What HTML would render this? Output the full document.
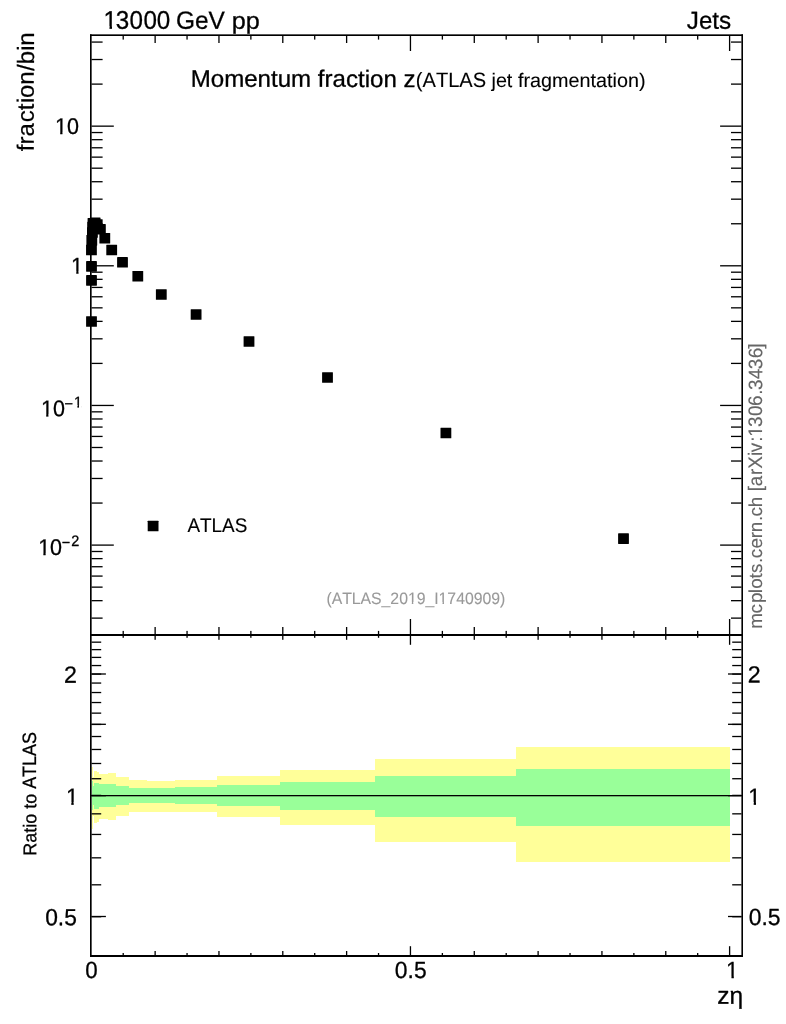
<!DOCTYPE html>
<html lang="en">
<head>
<meta charset="utf-8">
<title>Momentum fraction z (ATLAS jet fragmentation)</title>
<style>
html,body{margin:0;padding:0;background:#fff;}
body{width:786px;height:1024px;overflow:hidden;}
svg{display:block;font-family:"Liberation Sans", sans-serif;font-kerning:none;font-variant-ligatures:none;}
text{white-space:pre;stroke-linejoin:round;text-rendering:geometricPrecision;}
</style>
</head>
<body>
<svg width="786" height="1024" viewBox="0 0 786 1024">
<defs>
<clipPath id="c1"><rect x="-20" y="-43.56" width="196.08" height="40.72"/><rect x="-20" y="-2.84" width="20.24" height="4.44"/><rect x="5.94" y="-2.84" width="2.44" height="4.44"/><rect x="13.29" y="-2.84" width="162.79" height="4.44"/><rect x="-20" y="1.6" width="196.08" height="41.96"/></clipPath>
<clipPath id="c2"><rect x="-109.43" y="-28.39" width="218.86" height="26.36"/><rect x="-109.43" y="-2.03" width="101.68" height="3.63"/><rect x="-3.99" y="-2.03" width="1.49" height="3.63"/><rect x="0.75" y="-2.03" width="22.18" height="3.63"/><rect x="26.7" y="-2.03" width="1.49" height="3.63"/><rect x="31.45" y="-2.03" width="77.98" height="3.63"/><rect x="-109.43" y="1.6" width="218.86" height="26.79"/></clipPath>
<clipPath id="c3"><rect x="-20" y="-34.2" width="327.26" height="32.17"/><rect x="-20" y="-2.03" width="212.22" height="3.63"/><rect x="196.72" y="-2.03" width="1.79" height="3.63"/><rect x="202.39" y="-2.03" width="104.87" height="3.63"/><rect x="-20" y="1.6" width="327.26" height="32.6"/></clipPath>
<clipPath id="c4"><rect x="-43.91" y="-38.7" width="63.91" height="36.67"/><rect x="-43.91" y="-2.03" width="20.21" height="3.63"/><rect x="-18.66" y="-2.03" width="2.2" height="3.63"/><rect x="-12.1" y="-2.03" width="32.1" height="3.63"/><rect x="-43.91" y="1.6" width="63.91" height="37.1"/></clipPath>
<clipPath id="c5"><rect x="-31.96" y="-38.7" width="51.96" height="36.06"/><rect x="-31.96" y="-2.64" width="20.21" height="4.24"/><rect x="-6.7" y="-2.64" width="2.2" height="4.24"/><rect x="-0.15" y="-2.64" width="20.15" height="4.24"/><rect x="-31.96" y="1.6" width="51.96" height="37.1"/></clipPath>
<clipPath id="c6"><rect x="-60.45" y="-38.7" width="80.45" height="27.33"/><rect x="-60.45" y="-11.37" width="52.52" height="3.83"/><rect x="-4.57" y="-11.37" width="1.58" height="3.83"/><rect x="-0.1" y="-11.37" width="20.1" height="3.83"/><rect x="-60.45" y="-7.54" width="80.45" height="5.3"/><rect x="-60.45" y="-2.23" width="19.61" height="3.83"/><rect x="-35.79" y="-2.23" width="2.2" height="3.83"/><rect x="-29.24" y="-2.23" width="49.24" height="3.83"/><rect x="-60.45" y="1.6" width="80.45" height="37.1"/></clipPath>
<clipPath id="c7"><rect x="-60.45" y="-38.7" width="80.45" height="36.57"/><rect x="-60.45" y="-2.13" width="19.61" height="3.73"/><rect x="-35.79" y="-2.13" width="2.2" height="3.73"/><rect x="-29.24" y="-2.13" width="49.24" height="3.73"/><rect x="-60.45" y="1.6" width="80.45" height="37.1"/></clipPath>
<clipPath id="c8"><rect x="-32.4" y="-40.14" width="52.4" height="37.4"/><rect x="-32.4" y="-2.74" width="20.22" height="4.34"/><rect x="-6.94" y="-2.74" width="2.27" height="4.34"/><rect x="-0.15" y="-2.74" width="20.15" height="4.34"/><rect x="-32.4" y="1.6" width="52.4" height="38.54"/></clipPath>
<clipPath id="c9"><rect x="-20" y="-40.14" width="52.4" height="37.4"/><rect x="-20" y="-2.74" width="20.22" height="4.34"/><rect x="5.46" y="-2.74" width="2.27" height="4.34"/><rect x="12.25" y="-2.74" width="20.15" height="4.34"/><rect x="-20" y="1.6" width="52.4" height="38.54"/></clipPath>
<clipPath id="c10"><rect x="-26.2" y="-40.14" width="52.4" height="38.21"/><rect x="-26.2" y="-1.93" width="20.22" height="3.53"/><rect x="-0.74" y="-1.93" width="2.27" height="3.53"/><rect x="6.05" y="-1.93" width="20.15" height="3.53"/><rect x="-26.2" y="1.6" width="52.4" height="38.54"/></clipPath>
</defs>
<rect x="0" y="0" width="786" height="1024" fill="#fff"/>
<g shape-rendering="crispEdges">
<rect x="92.00" y="767.00" width="1.00" height="62.00" fill="#ffff99"/>
<rect x="93.00" y="777.00" width="1.00" height="39.00" fill="#ffff99"/>
<rect x="94.00" y="771.00" width="3.00" height="52.00" fill="#ffff99"/>
<rect x="97.00" y="772.00" width="2.00" height="50.00" fill="#ffff99"/>
<rect x="99.00" y="774.00" width="9.00" height="45.00" fill="#ffff99"/>
<rect x="108.00" y="773.00" width="8.00" height="47.00" fill="#ffff99"/>
<rect x="116.00" y="777.00" width="13.00" height="39.00" fill="#ffff99"/>
<rect x="129.00" y="780.00" width="18.00" height="32.00" fill="#ffff99"/>
<rect x="147.00" y="781.00" width="28.00" height="31.00" fill="#ffff99"/>
<rect x="175.00" y="780.00" width="42.00" height="32.00" fill="#ffff99"/>
<rect x="217.00" y="776.00" width="63.00" height="41.00" fill="#ffff99"/>
<rect x="280.00" y="770.00" width="95.00" height="55.00" fill="#ffff99"/>
<rect x="375.00" y="759.00" width="141.00" height="83.00" fill="#ffff99"/>
<rect x="516.00" y="747.00" width="214.00" height="115.00" fill="#ffff99"/>
<rect x="92.00" y="781.00" width="1.00" height="29.00" fill="#99ff99"/>
<rect x="93.00" y="786.00" width="1.00" height="19.00" fill="#99ff99"/>
<rect x="94.00" y="783.00" width="3.00" height="26.00" fill="#99ff99"/>
<rect x="97.00" y="783.00" width="2.00" height="26.00" fill="#99ff99"/>
<rect x="99.00" y="784.00" width="9.00" height="23.00" fill="#99ff99"/>
<rect x="108.00" y="784.00" width="8.00" height="23.00" fill="#99ff99"/>
<rect x="116.00" y="786.00" width="13.00" height="19.00" fill="#99ff99"/>
<rect x="129.00" y="788.00" width="18.00" height="15.00" fill="#99ff99"/>
<rect x="147.00" y="788.00" width="28.00" height="15.00" fill="#99ff99"/>
<rect x="175.00" y="787.00" width="42.00" height="17.00" fill="#99ff99"/>
<rect x="217.00" y="785.00" width="63.00" height="21.00" fill="#99ff99"/>
<rect x="280.00" y="782.00" width="95.00" height="28.00" fill="#99ff99"/>
<rect x="375.00" y="776.00" width="141.00" height="41.00" fill="#99ff99"/>
<rect x="516.00" y="769.00" width="214.00" height="57.00" fill="#99ff99"/>
</g>
<g>
<rect x="91.50" y="617.47" width="11.10" height="1.30" fill="#000"/>
<rect x="731.00" y="617.47" width="10.50" height="1.30" fill="#000"/>
<rect x="91.50" y="600.02" width="11.10" height="1.30" fill="#000"/>
<rect x="731.00" y="600.02" width="10.50" height="1.30" fill="#000"/>
<rect x="91.50" y="586.49" width="11.10" height="1.30" fill="#000"/>
<rect x="731.00" y="586.49" width="10.50" height="1.30" fill="#000"/>
<rect x="91.50" y="575.43" width="11.10" height="1.30" fill="#000"/>
<rect x="731.00" y="575.43" width="10.50" height="1.30" fill="#000"/>
<rect x="91.50" y="566.08" width="11.10" height="1.30" fill="#000"/>
<rect x="731.00" y="566.08" width="10.50" height="1.30" fill="#000"/>
<rect x="91.50" y="557.98" width="11.10" height="1.30" fill="#000"/>
<rect x="731.00" y="557.98" width="10.50" height="1.30" fill="#000"/>
<rect x="91.50" y="550.84" width="11.10" height="1.30" fill="#000"/>
<rect x="731.00" y="550.84" width="10.50" height="1.30" fill="#000"/>
<rect x="91.50" y="544.45" width="22.30" height="1.30" fill="#000"/>
<rect x="720.10" y="544.45" width="21.40" height="1.30" fill="#000"/>
<rect x="91.50" y="502.41" width="11.10" height="1.30" fill="#000"/>
<rect x="731.00" y="502.41" width="10.50" height="1.30" fill="#000"/>
<rect x="91.50" y="477.82" width="11.10" height="1.30" fill="#000"/>
<rect x="731.00" y="477.82" width="10.50" height="1.30" fill="#000"/>
<rect x="91.50" y="460.37" width="11.10" height="1.30" fill="#000"/>
<rect x="731.00" y="460.37" width="10.50" height="1.30" fill="#000"/>
<rect x="91.50" y="446.84" width="11.10" height="1.30" fill="#000"/>
<rect x="731.00" y="446.84" width="10.50" height="1.30" fill="#000"/>
<rect x="91.50" y="435.78" width="11.10" height="1.30" fill="#000"/>
<rect x="731.00" y="435.78" width="10.50" height="1.30" fill="#000"/>
<rect x="91.50" y="426.43" width="11.10" height="1.30" fill="#000"/>
<rect x="731.00" y="426.43" width="10.50" height="1.30" fill="#000"/>
<rect x="91.50" y="418.33" width="11.10" height="1.30" fill="#000"/>
<rect x="731.00" y="418.33" width="10.50" height="1.30" fill="#000"/>
<rect x="91.50" y="411.19" width="11.10" height="1.30" fill="#000"/>
<rect x="731.00" y="411.19" width="10.50" height="1.30" fill="#000"/>
<rect x="91.50" y="404.80" width="22.30" height="1.30" fill="#000"/>
<rect x="720.10" y="404.80" width="21.40" height="1.30" fill="#000"/>
<rect x="91.50" y="362.76" width="11.10" height="1.30" fill="#000"/>
<rect x="731.00" y="362.76" width="10.50" height="1.30" fill="#000"/>
<rect x="91.50" y="338.17" width="11.10" height="1.30" fill="#000"/>
<rect x="731.00" y="338.17" width="10.50" height="1.30" fill="#000"/>
<rect x="91.50" y="320.72" width="11.10" height="1.30" fill="#000"/>
<rect x="731.00" y="320.72" width="10.50" height="1.30" fill="#000"/>
<rect x="91.50" y="307.19" width="11.10" height="1.30" fill="#000"/>
<rect x="731.00" y="307.19" width="10.50" height="1.30" fill="#000"/>
<rect x="91.50" y="296.13" width="11.10" height="1.30" fill="#000"/>
<rect x="731.00" y="296.13" width="10.50" height="1.30" fill="#000"/>
<rect x="91.50" y="286.78" width="11.10" height="1.30" fill="#000"/>
<rect x="731.00" y="286.78" width="10.50" height="1.30" fill="#000"/>
<rect x="91.50" y="278.68" width="11.10" height="1.30" fill="#000"/>
<rect x="731.00" y="278.68" width="10.50" height="1.30" fill="#000"/>
<rect x="91.50" y="271.54" width="11.10" height="1.30" fill="#000"/>
<rect x="731.00" y="271.54" width="10.50" height="1.30" fill="#000"/>
<rect x="91.50" y="265.15" width="22.30" height="1.30" fill="#000"/>
<rect x="720.10" y="265.15" width="21.40" height="1.30" fill="#000"/>
<rect x="91.50" y="223.11" width="11.10" height="1.30" fill="#000"/>
<rect x="731.00" y="223.11" width="10.50" height="1.30" fill="#000"/>
<rect x="91.50" y="198.52" width="11.10" height="1.30" fill="#000"/>
<rect x="731.00" y="198.52" width="10.50" height="1.30" fill="#000"/>
<rect x="91.50" y="181.07" width="11.10" height="1.30" fill="#000"/>
<rect x="731.00" y="181.07" width="10.50" height="1.30" fill="#000"/>
<rect x="91.50" y="167.54" width="11.10" height="1.30" fill="#000"/>
<rect x="731.00" y="167.54" width="10.50" height="1.30" fill="#000"/>
<rect x="91.50" y="156.48" width="11.10" height="1.30" fill="#000"/>
<rect x="731.00" y="156.48" width="10.50" height="1.30" fill="#000"/>
<rect x="91.50" y="147.13" width="11.10" height="1.30" fill="#000"/>
<rect x="731.00" y="147.13" width="10.50" height="1.30" fill="#000"/>
<rect x="91.50" y="139.03" width="11.10" height="1.30" fill="#000"/>
<rect x="731.00" y="139.03" width="10.50" height="1.30" fill="#000"/>
<rect x="91.50" y="131.89" width="11.10" height="1.30" fill="#000"/>
<rect x="731.00" y="131.89" width="10.50" height="1.30" fill="#000"/>
<rect x="91.50" y="125.50" width="22.30" height="1.30" fill="#000"/>
<rect x="720.10" y="125.50" width="21.40" height="1.30" fill="#000"/>
<rect x="91.50" y="83.46" width="11.10" height="1.30" fill="#000"/>
<rect x="731.00" y="83.46" width="10.50" height="1.30" fill="#000"/>
<rect x="91.50" y="58.87" width="11.10" height="1.30" fill="#000"/>
<rect x="731.00" y="58.87" width="10.50" height="1.30" fill="#000"/>
<rect x="91.50" y="41.42" width="11.10" height="1.30" fill="#000"/>
<rect x="731.00" y="41.42" width="10.50" height="1.30" fill="#000"/>
<rect x="91.50" y="916.07" width="9.70" height="1.30" fill="#000"/>
<rect x="732.20" y="916.07" width="9.30" height="1.30" fill="#000"/>
<rect x="91.50" y="884.16" width="9.70" height="1.30" fill="#000"/>
<rect x="732.20" y="884.16" width="9.30" height="1.30" fill="#000"/>
<rect x="91.50" y="857.18" width="9.70" height="1.30" fill="#000"/>
<rect x="732.20" y="857.18" width="9.30" height="1.30" fill="#000"/>
<rect x="91.50" y="833.80" width="9.70" height="1.30" fill="#000"/>
<rect x="732.20" y="833.80" width="9.30" height="1.30" fill="#000"/>
<rect x="91.50" y="813.19" width="9.70" height="1.30" fill="#000"/>
<rect x="732.20" y="813.19" width="9.30" height="1.30" fill="#000"/>
<rect x="91.50" y="794.75" width="9.70" height="1.30" fill="#000"/>
<rect x="732.20" y="794.75" width="9.30" height="1.30" fill="#000"/>
<rect x="91.50" y="778.07" width="9.70" height="1.30" fill="#000"/>
<rect x="732.20" y="778.07" width="9.30" height="1.30" fill="#000"/>
<rect x="91.50" y="762.84" width="9.70" height="1.30" fill="#000"/>
<rect x="732.20" y="762.84" width="9.30" height="1.30" fill="#000"/>
<rect x="91.50" y="748.83" width="9.70" height="1.30" fill="#000"/>
<rect x="732.20" y="748.83" width="9.30" height="1.30" fill="#000"/>
<rect x="91.50" y="735.86" width="9.70" height="1.30" fill="#000"/>
<rect x="732.20" y="735.86" width="9.30" height="1.30" fill="#000"/>
<rect x="91.50" y="723.79" width="9.70" height="1.30" fill="#000"/>
<rect x="732.20" y="723.79" width="9.30" height="1.30" fill="#000"/>
<rect x="91.50" y="712.49" width="9.70" height="1.30" fill="#000"/>
<rect x="732.20" y="712.49" width="9.30" height="1.30" fill="#000"/>
<rect x="91.50" y="701.88" width="9.70" height="1.30" fill="#000"/>
<rect x="732.20" y="701.88" width="9.30" height="1.30" fill="#000"/>
<rect x="91.50" y="691.88" width="9.70" height="1.30" fill="#000"/>
<rect x="732.20" y="691.88" width="9.30" height="1.30" fill="#000"/>
<rect x="91.50" y="682.41" width="9.70" height="1.30" fill="#000"/>
<rect x="732.20" y="682.41" width="9.30" height="1.30" fill="#000"/>
<rect x="91.50" y="673.43" width="9.70" height="1.30" fill="#000"/>
<rect x="732.20" y="673.43" width="9.30" height="1.30" fill="#000"/>
<rect x="91.50" y="664.90" width="9.70" height="1.30" fill="#000"/>
<rect x="732.20" y="664.90" width="9.30" height="1.30" fill="#000"/>
<rect x="91.50" y="656.75" width="9.70" height="1.30" fill="#000"/>
<rect x="732.20" y="656.75" width="9.30" height="1.30" fill="#000"/>
<rect x="91.50" y="648.97" width="9.70" height="1.30" fill="#000"/>
<rect x="732.20" y="648.97" width="9.30" height="1.30" fill="#000"/>
<rect x="91.50" y="641.52" width="9.70" height="1.30" fill="#000"/>
<rect x="732.20" y="641.52" width="9.30" height="1.30" fill="#000"/>
<rect x="91.50" y="673.35" width="14.40" height="1.30" fill="#000"/>
<rect x="728.00" y="673.35" width="13.50" height="1.30" fill="#000"/>
<rect x="91.50" y="723.65" width="14.40" height="1.30" fill="#000"/>
<rect x="728.00" y="723.65" width="13.50" height="1.30" fill="#000"/>
<rect x="91.50" y="795.00" width="14.40" height="1.30" fill="#000"/>
<rect x="728.00" y="795.00" width="13.50" height="1.30" fill="#000"/>
<rect x="91.50" y="915.85" width="14.40" height="1.30" fill="#000"/>
<rect x="728.00" y="915.85" width="13.50" height="1.30" fill="#000"/>
<rect x="122.56" y="35.50" width="1.30" height="4.10" fill="#000"/>
<rect x="122.56" y="630.90" width="1.30" height="3.60" fill="#000"/>
<rect x="122.56" y="635.50" width="1.30" height="2.30" fill="#000"/>
<rect x="122.56" y="953.00" width="1.30" height="2.50" fill="#000"/>
<rect x="154.48" y="35.50" width="1.30" height="7.50" fill="#000"/>
<rect x="154.48" y="627.00" width="1.30" height="7.50" fill="#000"/>
<rect x="154.48" y="635.50" width="1.30" height="4.30" fill="#000"/>
<rect x="154.48" y="951.00" width="1.30" height="4.50" fill="#000"/>
<rect x="186.40" y="35.50" width="1.30" height="4.10" fill="#000"/>
<rect x="186.40" y="630.90" width="1.30" height="3.60" fill="#000"/>
<rect x="186.40" y="635.50" width="1.30" height="2.30" fill="#000"/>
<rect x="186.40" y="953.00" width="1.30" height="2.50" fill="#000"/>
<rect x="218.31" y="35.50" width="1.30" height="7.50" fill="#000"/>
<rect x="218.31" y="627.00" width="1.30" height="7.50" fill="#000"/>
<rect x="218.31" y="635.50" width="1.30" height="4.30" fill="#000"/>
<rect x="218.31" y="951.00" width="1.30" height="4.50" fill="#000"/>
<rect x="250.22" y="35.50" width="1.30" height="4.10" fill="#000"/>
<rect x="250.22" y="630.90" width="1.30" height="3.60" fill="#000"/>
<rect x="250.22" y="635.50" width="1.30" height="2.30" fill="#000"/>
<rect x="250.22" y="953.00" width="1.30" height="2.50" fill="#000"/>
<rect x="282.14" y="35.50" width="1.30" height="7.50" fill="#000"/>
<rect x="282.14" y="627.00" width="1.30" height="7.50" fill="#000"/>
<rect x="282.14" y="635.50" width="1.30" height="4.30" fill="#000"/>
<rect x="282.14" y="951.00" width="1.30" height="4.50" fill="#000"/>
<rect x="314.06" y="35.50" width="1.30" height="4.10" fill="#000"/>
<rect x="314.06" y="630.90" width="1.30" height="3.60" fill="#000"/>
<rect x="314.06" y="635.50" width="1.30" height="2.30" fill="#000"/>
<rect x="314.06" y="953.00" width="1.30" height="2.50" fill="#000"/>
<rect x="345.97" y="35.50" width="1.30" height="7.50" fill="#000"/>
<rect x="345.97" y="627.00" width="1.30" height="7.50" fill="#000"/>
<rect x="345.97" y="635.50" width="1.30" height="4.30" fill="#000"/>
<rect x="345.97" y="951.00" width="1.30" height="4.50" fill="#000"/>
<rect x="377.89" y="35.50" width="1.30" height="4.10" fill="#000"/>
<rect x="377.89" y="630.90" width="1.30" height="3.60" fill="#000"/>
<rect x="377.89" y="635.50" width="1.30" height="2.30" fill="#000"/>
<rect x="377.89" y="953.00" width="1.30" height="2.50" fill="#000"/>
<rect x="409.80" y="35.50" width="1.30" height="15.50" fill="#000"/>
<rect x="409.80" y="619.00" width="1.30" height="15.50" fill="#000"/>
<rect x="409.80" y="635.50" width="1.30" height="9.30" fill="#000"/>
<rect x="409.80" y="946.20" width="1.30" height="9.30" fill="#000"/>
<rect x="441.72" y="35.50" width="1.30" height="4.10" fill="#000"/>
<rect x="441.72" y="630.90" width="1.30" height="3.60" fill="#000"/>
<rect x="441.72" y="635.50" width="1.30" height="2.30" fill="#000"/>
<rect x="441.72" y="953.00" width="1.30" height="2.50" fill="#000"/>
<rect x="473.63" y="35.50" width="1.30" height="7.50" fill="#000"/>
<rect x="473.63" y="627.00" width="1.30" height="7.50" fill="#000"/>
<rect x="473.63" y="635.50" width="1.30" height="4.30" fill="#000"/>
<rect x="473.63" y="951.00" width="1.30" height="4.50" fill="#000"/>
<rect x="505.55" y="35.50" width="1.30" height="4.10" fill="#000"/>
<rect x="505.55" y="630.90" width="1.30" height="3.60" fill="#000"/>
<rect x="505.55" y="635.50" width="1.30" height="2.30" fill="#000"/>
<rect x="505.55" y="953.00" width="1.30" height="2.50" fill="#000"/>
<rect x="537.46" y="35.50" width="1.30" height="7.50" fill="#000"/>
<rect x="537.46" y="627.00" width="1.30" height="7.50" fill="#000"/>
<rect x="537.46" y="635.50" width="1.30" height="4.30" fill="#000"/>
<rect x="537.46" y="951.00" width="1.30" height="4.50" fill="#000"/>
<rect x="569.38" y="35.50" width="1.30" height="4.10" fill="#000"/>
<rect x="569.38" y="630.90" width="1.30" height="3.60" fill="#000"/>
<rect x="569.38" y="635.50" width="1.30" height="2.30" fill="#000"/>
<rect x="569.38" y="953.00" width="1.30" height="2.50" fill="#000"/>
<rect x="601.29" y="35.50" width="1.30" height="7.50" fill="#000"/>
<rect x="601.29" y="627.00" width="1.30" height="7.50" fill="#000"/>
<rect x="601.29" y="635.50" width="1.30" height="4.30" fill="#000"/>
<rect x="601.29" y="951.00" width="1.30" height="4.50" fill="#000"/>
<rect x="633.21" y="35.50" width="1.30" height="4.10" fill="#000"/>
<rect x="633.21" y="630.90" width="1.30" height="3.60" fill="#000"/>
<rect x="633.21" y="635.50" width="1.30" height="2.30" fill="#000"/>
<rect x="633.21" y="953.00" width="1.30" height="2.50" fill="#000"/>
<rect x="665.12" y="35.50" width="1.30" height="7.50" fill="#000"/>
<rect x="665.12" y="627.00" width="1.30" height="7.50" fill="#000"/>
<rect x="665.12" y="635.50" width="1.30" height="4.30" fill="#000"/>
<rect x="665.12" y="951.00" width="1.30" height="4.50" fill="#000"/>
<rect x="697.03" y="35.50" width="1.30" height="4.10" fill="#000"/>
<rect x="697.03" y="630.90" width="1.30" height="3.60" fill="#000"/>
<rect x="697.03" y="635.50" width="1.30" height="2.30" fill="#000"/>
<rect x="697.03" y="953.00" width="1.30" height="2.50" fill="#000"/>
<rect x="728.95" y="35.50" width="1.30" height="15.50" fill="#000"/>
<rect x="728.95" y="619.00" width="1.30" height="15.50" fill="#000"/>
<rect x="728.95" y="635.50" width="1.30" height="9.30" fill="#000"/>
<rect x="728.95" y="946.20" width="1.30" height="9.30" fill="#000"/>
</g>
<rect x="91.00" y="795.00" width="651.00" height="1.30" fill="#000"/>
<g>
<rect x="90.00" y="34.35" width="653.00" height="1.65" fill="#000"/>
<rect x="90.00" y="634.00" width="653.00" height="2.00" fill="#000"/>
<rect x="90.00" y="955.00" width="653.00" height="2.00" fill="#000"/>
<rect x="90.00" y="34.35" width="1.65" height="922.65" fill="#000"/>
<rect x="741.40" y="34.35" width="1.60" height="922.65" fill="#000"/>
</g>
<rect x="618.10" y="533.30" width="10.80" height="10.60" fill="#000" rx="0.4"/>
<rect x="440.50" y="427.70" width="10.80" height="10.60" fill="#000" rx="0.4"/>
<rect x="322.10" y="372.20" width="10.80" height="10.60" fill="#000" rx="0.4"/>
<rect x="243.60" y="336.20" width="10.80" height="10.60" fill="#000" rx="0.4"/>
<rect x="190.70" y="309.20" width="10.80" height="10.60" fill="#000" rx="0.4"/>
<rect x="155.90" y="289.20" width="10.80" height="10.60" fill="#000" rx="0.4"/>
<rect x="132.40" y="271.00" width="10.80" height="10.60" fill="#000" rx="0.4"/>
<rect x="117.10" y="257.00" width="10.80" height="10.60" fill="#000" rx="0.4"/>
<rect x="106.30" y="244.70" width="10.80" height="10.60" fill="#000" rx="0.4"/>
<rect x="99.40" y="233.00" width="10.80" height="10.60" fill="#000" rx="0.4"/>
<rect x="95.00" y="224.00" width="10.80" height="10.60" fill="#000" rx="0.4"/>
<rect x="91.85" y="219.20" width="10.80" height="10.60" fill="#000" rx="0.4"/>
<rect x="89.75" y="217.50" width="10.80" height="10.60" fill="#000" rx="0.4"/>
<rect x="87.60" y="217.90" width="10.80" height="10.60" fill="#000" rx="0.4"/>
<rect x="87.30" y="221.70" width="10.80" height="10.60" fill="#000" rx="0.4"/>
<rect x="87.00" y="227.20" width="10.80" height="10.60" fill="#000" rx="0.4"/>
<rect x="86.40" y="235.10" width="10.80" height="10.60" fill="#000" rx="0.4"/>
<rect x="86.05" y="244.70" width="10.80" height="10.60" fill="#000" rx="0.4"/>
<rect x="86.10" y="261.05" width="10.80" height="10.60" fill="#000" rx="0.4"/>
<rect x="86.10" y="275.10" width="10.80" height="10.60" fill="#000" rx="0.4"/>
<rect x="86.10" y="316.20" width="10.80" height="10.60" fill="#000" rx="0.4"/>
<rect x="147.70" y="520.75" width="10.80" height="10.60" fill="#000" rx="0.4"/>
<text transform="translate(103.6 28.8) rotate(0.03) scale(1 0.985)" x="0" y="0" font-size="24.2" fill="#000" stroke="#000" stroke-width="0.3" clip-path="url(#c1)"><tspan x="0 12.2 25.82 39.81 53.04" font-size="25.8" textLength="67.29" lengthAdjust="spacingAndGlyphs">13000</tspan> <tspan x="72.42" font-size="25.18" textLength="48.92" lengthAdjust="spacingAndGlyphs">GeV</tspan> <tspan x="128.07" textLength="28.02" lengthAdjust="spacingAndGlyphs">pp</tspan></text>
<text transform="translate(731.2 28.8) rotate(0.03) scale(1 0.985)" x="-44.38" y="0" font-size="24.2" fill="#000" stroke="#000" stroke-width="0.3"><tspan font-size="24.94" textLength="44.38" lengthAdjust="spacingAndGlyphs">Jets</tspan></text>
<text transform="translate(190.7 86.8) rotate(0.03) scale(1 0.985)" x="0" y="0" font-size="24.08" fill="#000" stroke="#000" stroke-width="0.3"><tspan font-size="24.26" textLength="120.44" lengthAdjust="spacingAndGlyphs">Momentum</tspan> fraction z</text>
<text transform="translate(415.5 86.9) rotate(0.03) scale(1 0.985)" x="0" y="0" font-size="19.9" fill="#000" stroke="#000" stroke-width="0.12"><tspan x="0.35" font-size="21.11" textLength="70.27" lengthAdjust="spacingAndGlyphs">(ATLAS</tspan> <tspan x="76" textLength="20.87" lengthAdjust="spacingAndGlyphs">jet</tspan> <tspan x="102.54" textLength="127.51" lengthAdjust="spacingAndGlyphs">fragmentation)</tspan></text>
<text transform="translate(187.4 531.9) rotate(0.03) scale(1 0.985)" x="0" y="0" font-size="18.9" fill="#000" stroke="#000" stroke-width="0.15"><tspan font-size="20.05" textLength="59.87" lengthAdjust="spacingAndGlyphs">ATLAS</tspan></text>
<text transform="translate(415.8 604) rotate(0.03) scale(1 0.985)" x="-89.43" y="0" font-size="15.77" fill="#999" stroke="#999" stroke-width="0.1" clip-path="url(#c2)"><tspan font-size="16.78" textLength="178.86" lengthAdjust="spacingAndGlyphs">(ATLAS_2019_I1740909)</tspan></text>
<text transform="translate(762 628.8) rotate(-89.97) scale(1 0.985)" x="0" y="0" font-size="19" fill="#666" stroke="#666" stroke-width="0.12" clip-path="url(#c3)"><tspan x="0 15.38 25.8 35.57 39.95 50.43 55.86 65.77 70.5 80.22 90.59 96.66 107.83 112.26 121.47" textLength="131.85" lengthAdjust="spacingAndGlyphs">mcplots.cern.ch</tspan> <tspan x="137.53 142.46 153.74 160.02 172.69 176.58 187 192.04 201.82 212.9 222.88 234.06 238.8 249.58 259.66 270.45 280.13" font-size="19.86" textLength="147.74" lengthAdjust="spacingAndGlyphs">[arXiv:1306.3436]</tspan></text>
<text transform="translate(33.9 33.8) rotate(-89.97) scale(1 0.985)" x="-117.4" y="0" font-size="24" fill="#000" stroke="#000" stroke-width="0.2"><tspan x="-117.4 -110.73 -102.74 -88.39 -76.39 -69.12 -64.09 -50.94 -37.3 -30.33 -16.98 -11.95">fraction/bin</tspan></text>
<text transform="translate(36.2 793.85) rotate(-89.97) scale(1 0.985)" x="-61.84" y="0" font-size="18.5" fill="#000" stroke="#000" stroke-width="0.28"><tspan x="-61.84" font-size="18.73" textLength="41.89" lengthAdjust="spacingAndGlyphs">Ratio</tspan> <tspan x="-14.96" textLength="14.97" lengthAdjust="spacingAndGlyphs">to</tspan> <tspan x="4.99" font-size="19.63" textLength="56.85" lengthAdjust="spacingAndGlyphs">ATLAS</tspan></text>
<text transform="translate(743 1003.8) rotate(0.03) scale(1 0.985)" x="-25.88" y="0" font-size="24.5" fill="#000" stroke="#000" stroke-width="0.3">zη</text>
<text transform="translate(78.9 134) rotate(0.03) scale(1 0.985)" x="-23.91" y="0" font-size="21.5" fill="#000" stroke="#000" stroke-width="0.3" clip-path="url(#c4)"><tspan font-size="22.92" textLength="23.91" lengthAdjust="spacingAndGlyphs">10</tspan></text>
<text transform="translate(83 273.6) rotate(0.03) scale(1 0.985)" x="-11.96" y="0" font-size="21.5" fill="#000" stroke="#000" stroke-width="0.3" clip-path="url(#c5)"><tspan font-size="22.92" textLength="11.96" lengthAdjust="spacingAndGlyphs">1</tspan></text>
<text transform="translate(82 416.2) rotate(0.03) scale(1 0.985)" x="-40.45" y="0" font-size="21.5" fill="#000" stroke="#000" stroke-width="0.3" clip-path="url(#c6)"><tspan x="-41.05" font-size="22.92" textLength="23.91" lengthAdjust="spacingAndGlyphs" dy="0">10</tspan><tspan x="-17.43" font-size="14.5" dy="-7.92">−</tspan><tspan x="-8.06" font-size="15.46" textLength="8.06" lengthAdjust="spacingAndGlyphs" dy="-1.22">1</tspan></text>
<text transform="translate(79.2 555.1) rotate(0.03) scale(1 0.985)" x="-40.45" y="0" font-size="21.5" fill="#000" stroke="#000" stroke-width="0.3" clip-path="url(#c7)"><tspan x="-41.05" font-size="22.92" textLength="23.91" lengthAdjust="spacingAndGlyphs" dy="0">10</tspan><tspan x="-17.43" font-size="14.5" dy="-7.92">−</tspan><tspan x="-8.06" font-size="15.46" textLength="8.06" lengthAdjust="spacingAndGlyphs" dy="-1.22">2</tspan></text>
<text transform="translate(77 682.7) rotate(0.03) scale(1 0.985)" x="-12.9" y="0" font-size="22.3" fill="#000" stroke="#000" stroke-width="0.3"><tspan x="-12.9" font-size="23.77" textLength="12.9" lengthAdjust="spacingAndGlyphs">2</tspan></text>
<text transform="translate(78.3 804.7) rotate(0.03) scale(1 0.985)" x="-12.4" y="0" font-size="22.3" fill="#000" stroke="#000" stroke-width="0.3" clip-path="url(#c8)"><tspan font-size="23.77" textLength="12.4" lengthAdjust="spacingAndGlyphs">1</tspan></text>
<text transform="translate(77 925.2) rotate(0.03) scale(1 0.985)" x="-31" y="0" font-size="22.3" fill="#000" stroke="#000" stroke-width="0.3"><tspan x="-31.85" font-size="23.77" textLength="31.7" lengthAdjust="spacingAndGlyphs">0.5</tspan></text>
<text transform="translate(747.85 682.6) rotate(0.03) scale(1 0.985)" x="0" y="0" font-size="22.3" fill="#000" stroke="#000" stroke-width="0.3"><tspan x="0" font-size="23.77" textLength="12.9" lengthAdjust="spacingAndGlyphs">2</tspan></text>
<text transform="translate(748.3 804.7) rotate(0.03) scale(1 0.985)" x="0" y="0" font-size="22.3" fill="#000" stroke="#000" stroke-width="0.3" clip-path="url(#c9)"><tspan font-size="23.77" textLength="12.4" lengthAdjust="spacingAndGlyphs">1</tspan></text>
<text transform="translate(748.7 924.9) rotate(0.03) scale(1 0.985)" x="0" y="0" font-size="22.3" fill="#000" stroke="#000" stroke-width="0.3"><tspan x="0" font-size="23.77" textLength="31.9" lengthAdjust="spacingAndGlyphs">0.5</tspan></text>
<text transform="translate(91.4 978) rotate(0.03) scale(1 0.985)" x="-6.2" y="0" font-size="22.3" fill="#000" stroke="#000" stroke-width="0.3"><tspan font-size="23.77" textLength="12.4" lengthAdjust="spacingAndGlyphs">0</tspan></text>
<text transform="translate(410.4 978) rotate(0.03) scale(1 0.985)" x="-15.5" y="0" font-size="22.3" fill="#000" stroke="#000" stroke-width="0.3"><tspan x="-15.6" font-size="23.77" textLength="31.8" lengthAdjust="spacingAndGlyphs">0.5</tspan></text>
<text transform="translate(732.25 977.9) rotate(0.03) scale(1 0.985)" x="-6.2" y="0" font-size="22.3" fill="#000" stroke="#000" stroke-width="0.3" clip-path="url(#c10)"><tspan font-size="23.77" textLength="12.4" lengthAdjust="spacingAndGlyphs">1</tspan></text>
</svg>
</body>
</html>
